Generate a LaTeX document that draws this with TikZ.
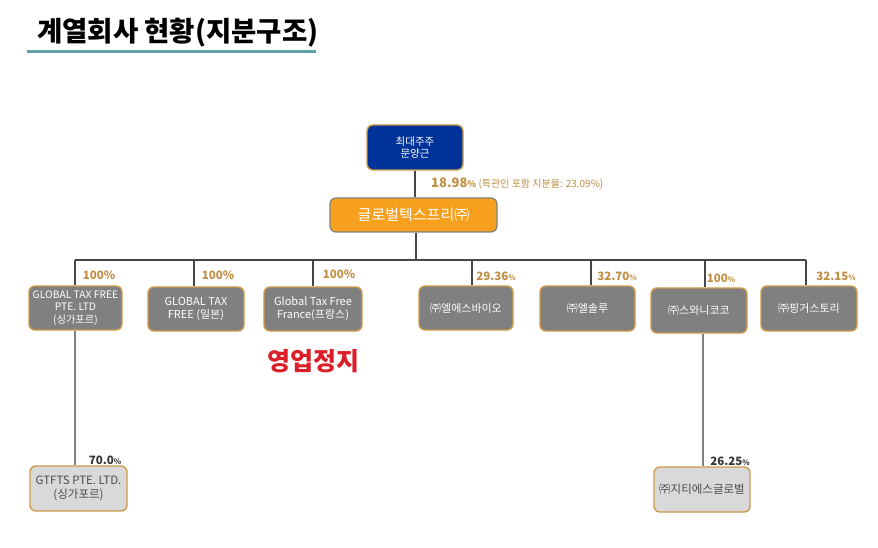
\documentclass[tikz,border=0pt]{standalone}
\usepackage{fontspec}
\setmainfont{Noto Sans CJK KR}
\usetikzlibrary{calc}
\definecolor{gold}{RGB}{192,142,66}
\definecolor{goldborder}{RGB}{205,155,75}
\definecolor{darkblue}{RGB}{0,51,153}
\definecolor{orangefill}{RGB}{247,160,30}
\definecolor{grayfill}{RGB}{128,128,128}
\definecolor{lightfill}{RGB}{217,217,217}
\definecolor{linegray}{RGB}{70,70,70}
\definecolor{teal}{RGB}{100,160,170}
\definecolor{stopred}{RGB}{220,30,40}
\begin{document}
\begin{tikzpicture}[x=1pt,y=-1pt,
  box/.style={draw=goldborder,line width=1.4pt,rounded corners=6pt,inner sep=1pt,align=center},
  graybox/.style={box,fill=grayfill,text=white,font=\fontsize{11}{13}\selectfont},
  lightbox/.style={box,fill=lightfill,text=black!70,font=\fontsize{11.5}{13.5}\selectfont},
  conn/.style={draw=linegray,line width=1.6pt},
  pct/.style={text=gold,font=\bfseries\fontsize{11.5}{12}\selectfont,inner sep=0pt},
  pctd/.style={text=black!80,font=\bfseries\fontsize{11.5}{12}\selectfont,inner sep=0pt}]
\useasboundingbox (0,0) rectangle (878,548);
\fill[white] (0,0) rectangle (878,548);
% title
\node[anchor=west,font=\bfseries\fontsize{27.5}{29}\selectfont,inner sep=0pt] (title) at (37,33) {계열회사 현황(지분구조)};
\draw[teal,line width=3pt] (27,52) -- (316,52);
% top
\node[box,fill=darkblue,text=white,minimum width=96pt,minimum height=45pt,font=\fontsize{10.5}{12.5}\selectfont] (top) at (415,147.5) {최대주주\\문양근};
\node[box,draw=gray,line width=1.2pt,fill=orangefill,text=white,minimum width=167pt,minimum height=34pt,font=\fontsize{15}{17}\selectfont] (gtf) at (413.5,215) {글로벌텍스프리㈜};
\draw[conn] (top.south) -- (top.south |- gtf.north);
\node[anchor=west,inner sep=0pt,text=gold] (p0) at (431,184) {{\bfseries\fontsize{13}{14}\selectfont 18.98}{\bfseries\fontsize{9}{9}\selectfont \%} {\fontsize{10}{11}\selectfont (특관인 포함 지분율: 23.09\%)}};
% bus
\coordinate (bus) at (416,260);
\coordinate (busL) at (75,260);
\coordinate (busR) at (806,260);
\draw[conn] (gtf.south -| bus) -- (bus);
\draw[conn] (busL) -- (busR);
% children
\node[graybox,minimum width=93pt,minimum height=44pt,font=\fontsize{10.3}{12.5}\selectfont] (c1) at (75.5,308) {GLOBAL TAX FREE\\PTE. LTD\\(싱가포르)};
\node[graybox,minimum width=96pt,minimum height=44pt] (c2) at (196,309) {GLOBAL TAX\\FREE (일본)};
\node[graybox,minimum width=98pt,minimum height=44pt] (c3) at (313,309) {Global Tax Free\\France(프랑스)};
\node[graybox,minimum width=94pt,minimum height=44pt] (c4) at (466,308) {㈜엘에스바이오};
\node[graybox,minimum width=95pt,minimum height=45pt] (c5) at (587.5,308.5) {㈜엘솔루};
\node[graybox,minimum width=96pt,minimum height=45pt] (c6) at (699,310.5) {㈜스와니코코};
\node[graybox,minimum width=96pt,minimum height=45pt] (c7) at (809,308.5) {㈜핑거스토리};
\draw[conn] (busL) -- (busL |- c1.north);
\draw[conn] ([xshift=-2pt]c2.north) -- ([xshift=-2pt]c2.north |- bus);
\draw[conn] (c3.north) -- (c3.north |- bus);
\draw[conn] ([xshift=6pt]c4.north) -- ([xshift=6pt]c4.north |- bus);
\draw[conn] ([xshift=3.5pt]c5.north) -- ([xshift=3.5pt]c5.north |- bus);
\draw[conn] ([xshift=6pt]c6.north) -- ([xshift=6pt]c6.north |- bus);
\draw[conn] (busR) -- (busR |- c7.north);
% percentages
\node[pct] (p1) at (99,275) {100\%};
\node[pct] (p2) at (218,275) {100\%};
\node[pct] (p3) at (339,274) {100\%};
\node[pct] (p4) at (496,276) {29.36{\fontsize{7.5}{9}\selectfont\%}};
\node[pct] (p5) at (617,276) {32.70{\fontsize{7.5}{9}\selectfont\%}};
\node[pct] (p6) at (721,278) {100{\fontsize{7.5}{9}\selectfont\%}};
\node[pct] (p7) at (836,276) {32.15{\fontsize{7.5}{9}\selectfont\%}};
% stopped
\node[text=stopred,font=\bfseries\fontsize{25}{27}\selectfont] (stop) at (313,361) {영업정지};
% sub
\node[lightbox,minimum width=97pt,minimum height=45pt] (s1) at (78.5,488.5) {GTFTS PTE. LTD.\\(싱가포르)};
\node[lightbox,minimum width=96pt,minimum height=45pt] (s2) at (702,489.5) {㈜지티에스글로벌};
\draw[draw=gray,line width=1.6pt] (c1.south -| busL) -- (s1.north -| busL);
\draw[draw=gray,line width=1.6pt] ([xshift=4pt]c6.south) -- ([xshift=4pt]c6.south |- s2.north);
\node[pctd] (q1) at (105,460) {70.0{\fontsize{7.5}{9}\selectfont\%}};
\node[pctd] (q2) at (730,461) {26.25{\fontsize{7.5}{9}\selectfont\%}};
\end{tikzpicture}
\end{document}
